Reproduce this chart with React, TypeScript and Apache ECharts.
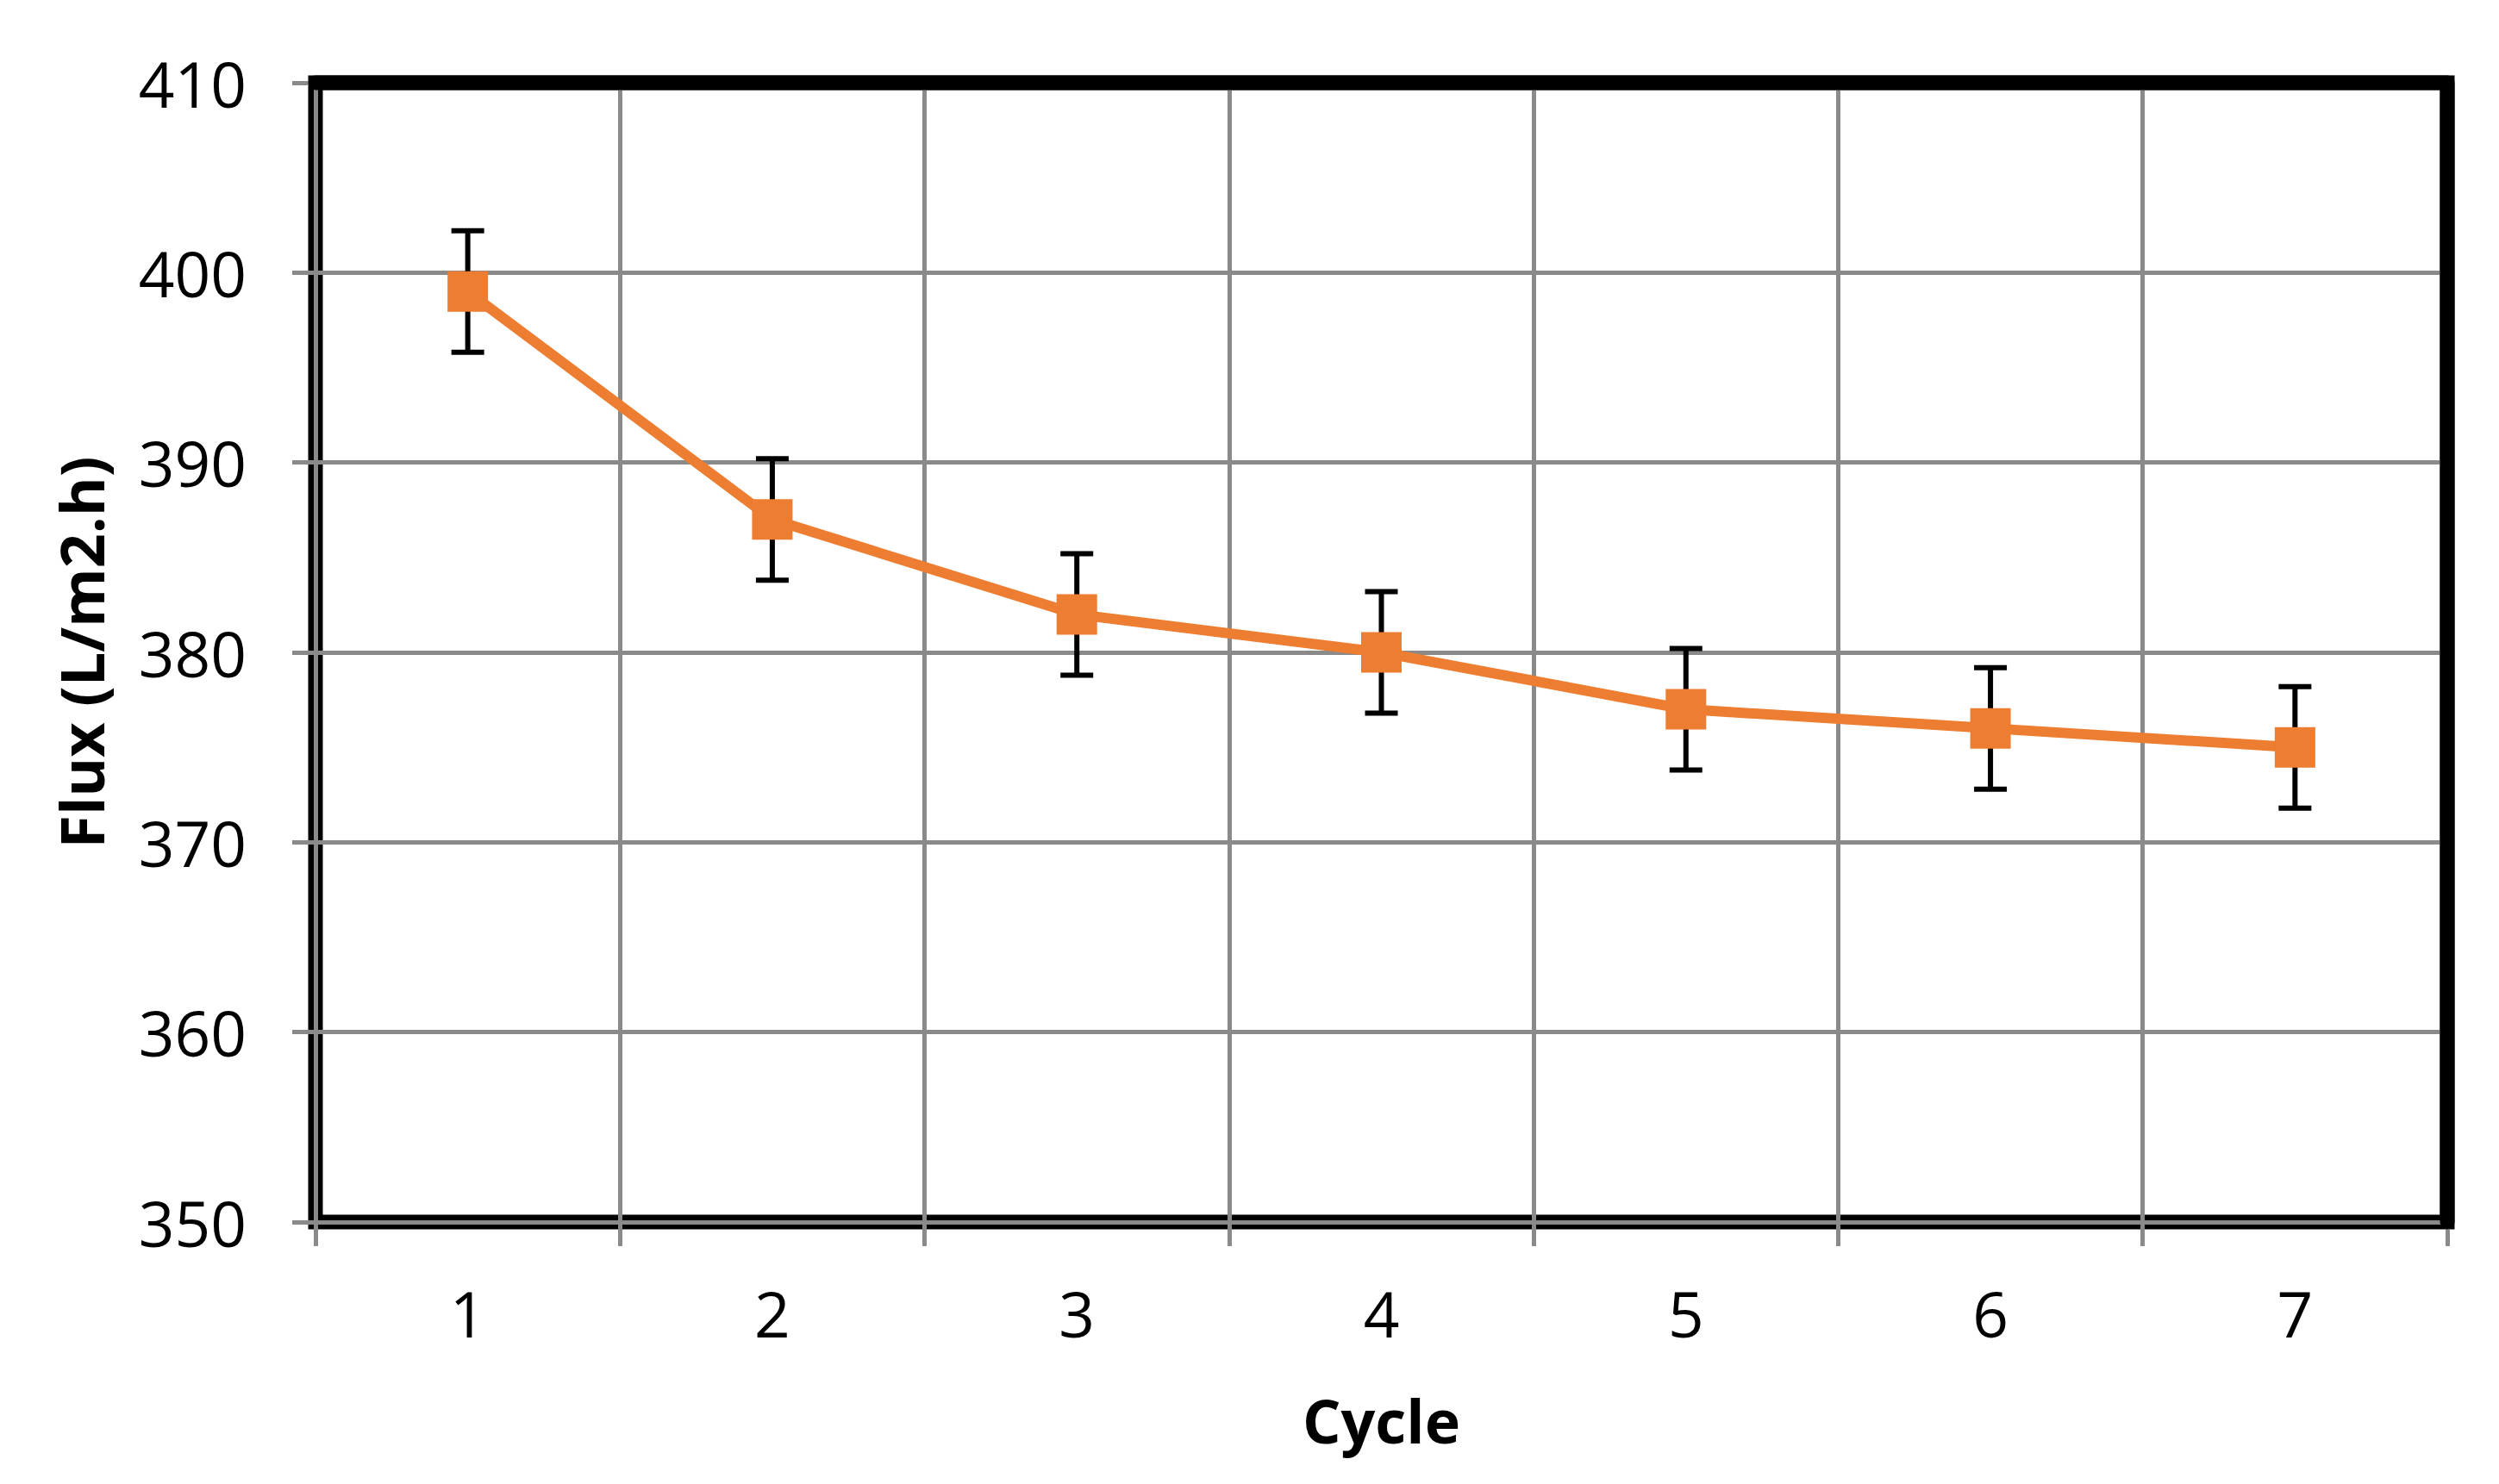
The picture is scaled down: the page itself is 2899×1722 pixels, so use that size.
import React, { useEffect, useRef } from "react";
import * as echarts from "echarts";

const categories = ["1", "2", "3", "4", "5", "6", "7"];
const fluxValues = [399, 387, 382, 380, 377, 376, 375];
const errorValues = [3.2, 3.2, 3.2, 3.2, 3.2, 3.2, 3.2];
const yMin = 350;
const yMax = 410;
const yInterval = 10;
const xAxisTitle = "Cycle";
const yAxisTitle = "Flux (L/m2.h)";

const GRAY = "#8a8a8a";
const ORANGE = "#ED7D31";
const FONT = "'Open Sans', 'DejaVu Sans', sans-serif";

const GRID_LEFT = 366;
const GRID_RIGHT = 60;
const GRID_TOP = 96;
const GRID_BOTTOM = 304;
const W = 2899;
const H = 1722;

export default function App() {
  const ref = useRef<HTMLDivElement>(null);

  useEffect(() => {
    if (!ref.current) return;
    const chart = echarts.init(ref.current, null, { renderer: "svg" });

    const errorData = categories.map((_, i) => [
      i,
      fluxValues[i] - errorValues[i],
      fluxValues[i] + errorValues[i],
    ]);

    const x0 = GRID_LEFT;
    const x1 = W - GRID_RIGHT;
    const y0 = GRID_TOP;
    const y1 = H - GRID_BOTTOM;

    const option: any = {
      animation: false,
      backgroundColor: "#ffffff",
      grid: {
        left: GRID_LEFT,
        right: GRID_RIGHT,
        top: GRID_TOP,
        bottom: GRID_BOTTOM,
        show: true,
        borderColor: "#000000",
        borderWidth: 17,
        backgroundColor: "transparent",
        z: 0,
      },
      graphic: [
        {
          type: "polyline",
          z: 100,
          silent: true,
          shape: {
            points: [
              [x0, y0],
              [x1, y0],
              [x1, y1],
            ],
          },
          style: {
            stroke: "#000000",
            lineWidth: 17,
            fill: null,
            lineJoin: "round",
            lineCap: "round",
          },
        },
      ],
      xAxis: {
        type: "category",
        data: categories,
        boundaryGap: true,
        name: xAxisTitle,
        nameLocation: "middle",
        nameGap: 195,
        nameTextStyle: {
          fontFamily: FONT,
          fontWeight: "bold",
          fontSize: 70,
          color: "#000",
        },
        axisLine: { show: true, lineStyle: { color: GRAY, width: 5 } },
        axisTick: {
          show: true,
          alignWithLabel: false,
          length: 28,
          lineStyle: { color: GRAY, width: 5 },
        },
        splitLine: { show: true, lineStyle: { color: GRAY, width: 5 } },
        axisLabel: {
          fontFamily: FONT,
          fontSize: 73,
          color: "#000",
          margin: 69,
        },
        z: 1,
      },
      yAxis: {
        type: "value",
        min: yMin,
        max: yMax,
        interval: yInterval,
        name: yAxisTitle,
        nameLocation: "middle",
        nameGap: 237,
        nameTextStyle: {
          fontFamily: FONT,
          fontWeight: "bold",
          fontSize: 70,
          color: "#000",
        },
        axisLine: { show: true, lineStyle: { color: GRAY, width: 5 } },
        axisTick: {
          show: true,
          length: 27,
          lineStyle: { color: GRAY, width: 5 },
        },
        splitLine: { show: true, lineStyle: { color: GRAY, width: 5 } },
        axisLabel: {
          fontFamily: FONT,
          fontSize: 73,
          color: "#000",
          margin: 80,
        },
        z: 1,
      },
      series: [
        {
          type: "custom",
          name: "error",
          data: errorData,
          z: 3,
          renderItem: (params: any, api: any) => {
            const x = api.value(0);
            const lo = api.value(1);
            const hi = api.value(2);
            const top = api.coord([x, hi]);
            const bot = api.coord([x, lo]);
            const half = 19;
            const style = { stroke: "#000000", lineWidth: 6 };
            return {
              type: "group",
              children: [
                {
                  type: "line",
                  shape: { x1: top[0], y1: top[1], x2: bot[0], y2: bot[1] },
                  style,
                },
                {
                  type: "line",
                  shape: {
                    x1: top[0] - half,
                    y1: top[1],
                    x2: top[0] + half,
                    y2: top[1],
                  },
                  style,
                },
                {
                  type: "line",
                  shape: {
                    x1: bot[0] - half,
                    y1: bot[1],
                    x2: bot[0] + half,
                    y2: bot[1],
                  },
                  style,
                },
              ],
            };
          },
        },
        {
          type: "line",
          name: "Flux",
          data: fluxValues,
          z: 4,
          symbol: "rect",
          symbolSize: 47,
          showAllSymbol: true,
          lineStyle: { color: ORANGE, width: 12 },
          itemStyle: { color: ORANGE },
        },
      ],
    };

    chart.setOption(option);
    return () => {
      chart.dispose();
    };
  }, []);

  return (
    <div
      ref={ref}
      style={{
        position: "absolute",
        left: 0,
        top: 0,
        width: W,
        height: H,
        background: "#fff",
      }}
    />
  );
}
